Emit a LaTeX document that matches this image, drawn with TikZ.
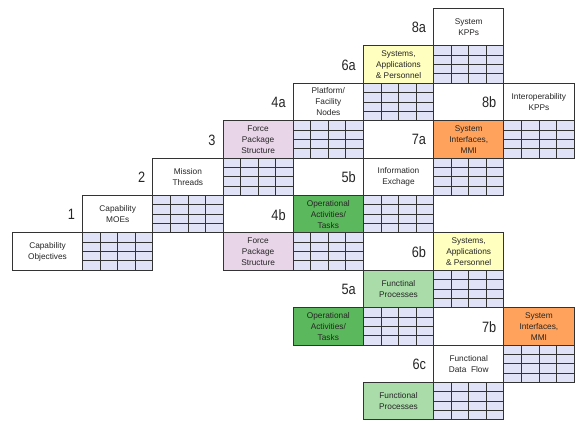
\documentclass[tikz,border=0pt]{standalone}
\usepackage{fontspec}
\setmainfont{Liberation Sans}
\newfontfamily\labfont[FakeStretch=0.85]{Liberation Sans}
\usetikzlibrary{calc}
\definecolor{gridfill}{HTML}{E0E3F7}
\definecolor{lineclr}{HTML}{333333}
\definecolor{pinkc}{HTML}{E8D5E8}
\definecolor{greenc}{HTML}{5CB85C}
\definecolor{lgreenc}{HTML}{A9DCA9}
\definecolor{yellowc}{HTML}{FFFFC0}
\definecolor{orangec}{HTML}{FFA25C}
\tikzset{
  cellbox/.style={draw=lineclr, line width=0.8pt, minimum width=70.2pt, minimum height=37.4pt,
    inner sep=0pt, anchor=north west, align=center,
    font=\fontsize{8.3}{11}\selectfont, text=black!85},
  gridbox/.style={cellbox, fill=gridfill, path picture={
    \foreach \k in {1,2,3}{
      \draw[lineclr, line width=0.8pt]
        ($(path picture bounding box.south west)!\k/4!(path picture bounding box.south east)$) --
        ($(path picture bounding box.north west)!\k/4!(path picture bounding box.north east)$);
      \draw[lineclr, line width=0.8pt]
        ($(path picture bounding box.south west)!\k/4!(path picture bounding box.north west)$) --
        ($(path picture bounding box.south east)!\k/4!(path picture bounding box.north east)$);
    }}},
  numlabel/.style={anchor=east, inner sep=0pt, text=black!85,
    font=\labfont\fontsize{15}{15}\selectfont}
}
\begin{document}
\begin{tikzpicture}
\useasboundingbox[fill=white] (0pt,0pt) rectangle (586pt,-421pt);
\begin{scope}[shift={(12pt,-8pt)}, x=70.2pt, y=-37.4pt]
% grids, diagonal 1
\node[gridbox] (g16) at (1,6) {};
\node[gridbox] (g25) at (2,5) {};
\node[gridbox] (g34) at (3,4) {};
\node[gridbox] (g43) at (4,3) {};
\node[gridbox] (g52) at (5,2) {};
\node[gridbox] (g61) at (6,1) {};
% grids, diagonal 2
\node[gridbox] (g46) at (4,6) {};
\node[gridbox] (g55) at (5,5) {};
\node[gridbox] (g64) at (6,4) {};
\node[gridbox] (g73) at (7,3) {};
% grids, lower part
\node[gridbox] (g67) at (6,7) {};
\node[gridbox] (g58) at (5,8) {};
\node[gridbox] (g79) at (7,9) {};
\node[gridbox] (g610) at (6,10) {};
% boxes, diagonal 1
\node[cellbox] (obj) at (0,6) {Capability\\Objectives};
\node[cellbox] (moe) at (1,5) {Capability\\MOEs};
\node[cellbox] (mt) at (2,4) {Mission\\Threads};
\node[cellbox, fill=pinkc] (fps1) at (3,3) {Force\\Package\\Structure};
\node[cellbox] (pfn) at (4,2) {Platform/\\Facility\\Nodes};
\node[cellbox, fill=yellowc] (sap1) at (5,1) {Systems,\\Applications\\\& Personnel};
\node[cellbox] (kpp) at (6,0) {System\\KPPs};
% boxes, diagonal 2
\node[cellbox, fill=pinkc] (fps2) at (3,6) {Force\\Package\\Structure};
\node[cellbox, fill=greenc] (oat1) at (4,5) {Operational\\Activities/\\Tasks};
\node[cellbox] (ie) at (5,4) {Information\\Exchage};
\node[cellbox, fill=orangec] (smi1) at (6,3) {System\\Interfaces,\\MMI};
\node[cellbox] (ikpp) at (7,2) {Interoperability\\KPPs};
% boxes, lower part
\node[cellbox, fill=yellowc] (sap2) at (6,6) {Systems,\\Applications\\\& Personnel};
\node[cellbox, fill=lgreenc] (fp1) at (5,7) {Functinal\\Processes};
\node[cellbox, fill=greenc] (oat2) at (4,8) {Operational\\Activities/\\Tasks};
\node[cellbox, fill=orangec] (smi2) at (7,8) {System\\Interfaces,\\MMI};
\node[cellbox] (fdf) at (6,9) {Functional\\Data\ \ Flow};
\node[cellbox, fill=lgreenc] (fp2) at (5,10) {Functional\\Processes};
% number labels
\node[numlabel] (l1) at ([xshift=-7pt,yshift=-1pt]1,5.5) {1};
\node[numlabel] (l2) at ([xshift=-7pt,yshift=-1pt]2,4.5) {2};
\node[numlabel] (l3) at ([xshift=-7pt,yshift=-1pt]3,3.5) {3};
\node[numlabel] (l4a) at ([xshift=-7pt,yshift=-1pt]4,2.5) {4a};
\node[numlabel] (l6a) at ([xshift=-7pt,yshift=-1pt]5,1.5) {6a};
\node[numlabel] (l8a) at ([xshift=-7pt,yshift=-1pt]6,0.5) {8a};
\node[numlabel] (l4b) at ([xshift=-7pt,yshift=-1pt]4,5.5) {4b};
\node[numlabel] (l5b) at ([xshift=-7pt,yshift=-1pt]5,4.5) {5b};
\node[numlabel] (l7a) at ([xshift=-7pt,yshift=-1pt]6,3.5) {7a};
\node[numlabel] (l8b) at ([xshift=-7pt,yshift=-1pt]7,2.5) {8b};
\node[numlabel] (l6b) at ([xshift=-7pt,yshift=-1pt]6,6.5) {6b};
\node[numlabel] (l5a) at ([xshift=-7pt,yshift=-1pt]5,7.5) {5a};
\node[numlabel] (l7b) at ([xshift=-7pt,yshift=-1pt]7,8.5) {7b};
\node[numlabel] (l6c) at ([xshift=-7pt,yshift=-1pt]6,9.5) {6c};
\end{scope}
\end{tikzpicture}
\end{document}
